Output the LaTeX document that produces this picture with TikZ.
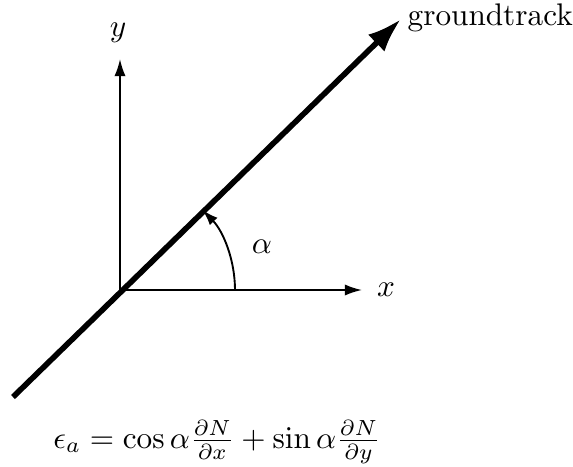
\documentclass[tikz,border=0pt]{standalone}
\usetikzlibrary{arrows.meta}
\begin{document}
\begin{tikzpicture}[x=0.32pt,y=0.32pt,
  axis/.style={line width=0.6pt,-{Latex[length=5.5pt,width=3.6pt]}},
  track/.style={line width=1.8pt,-{Latex[length=11pt,width=7.5pt]}},
  anglearrow/.style={line width=0.6pt,-{Latex[length=5pt,width=3.4pt]}},
  lbl/.style={inner sep=0pt}]
\useasboundingbox (0,0) rectangle (573,466);
\coordinate (O) at (120,176);
\coordinate (GS) at (13,69);
\coordinate (GE) at (401,447);
\coordinate (XE) at (362,176);
\coordinate (YE) at (120,407);
\coordinate (A0) at (235,176);
\draw[axis] (O) -- (XE);
\draw[axis] (O) -- (YE);
\draw[track] (GS) -- (GE);
\draw[anglearrow] (A0) arc[start angle=0,end angle=44,radius=115];
\node[lbl] (xl) at (386,176) {$x$};
\node[lbl] (yl) at (118,433) {$y$};
\node[lbl] (al) at (262,219) {$\alpha$};
\node[lbl,anchor=west] (gt) at (407,448) {groundtrack};
\node[lbl] (eq) at (217,24) {$\epsilon_a = \cos\alpha\frac{\partial N}{\partial x} + \sin\alpha\frac{\partial N}{\partial y}$};
\end{tikzpicture}
\end{document}
